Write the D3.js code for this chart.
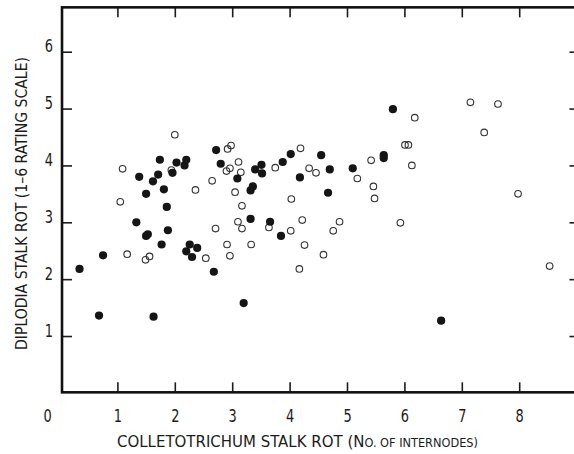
<!DOCTYPE html>
<html>
<head>
<meta charset="utf-8">
<script src="https://cdn.jsdelivr.net/npm/d3@7"></script>
<style>
  html, body { margin: 0; padding: 0; background: #fff; }
  svg text { font-family: "Liberation Sans Narrow", "DejaVu Sans Condensed", "Arial Narrow", sans-serif; fill: #1c1c1c; }
</style>
</head>
<body>
<div id="chart"></div>
<script>
// Diplodia vs Colletotrichum stalk rot, filled and open plants

const filledX = [0.34, 0.68, 0.75, 1.33, 1.38, 1.50, 1.50, 1.53, 1.62, 1.63, 1.71, 1.74, 1.77, 1.81, 1.86, 1.88,
  1.96, 2.03, 2.17, 2.20, 2.20, 2.26, 2.30, 2.39, 2.68, 2.72, 2.80, 3.09, 3.20, 3.32, 3.32, 3.36,
  3.40, 3.51, 3.52, 3.66, 3.85, 3.88, 4.02, 4.18, 4.55, 4.67, 4.70, 5.10, 5.64, 5.64, 5.80, 6.64];
const filledY = [2.18, 1.36, 2.42, 3.00, 3.80, 3.50, 2.76, 2.79, 3.72, 1.34, 3.84, 4.10, 2.61, 3.58, 3.27, 2.86,
  3.87, 4.05, 4.00, 4.10, 2.49, 2.61, 2.39, 2.55, 2.13, 4.27, 4.03, 3.77, 1.58, 3.06, 3.56, 3.63,
  3.93, 4.01, 3.86, 3.01, 2.76, 4.06, 4.20, 3.79, 4.18, 3.52, 3.93, 3.95, 4.18, 4.13, 4.99, 1.27];

const openX = [1.05, 1.09, 1.17, 1.49, 1.56, 1.94, 2.00, 2.36, 2.54, 2.65, 2.71, 2.90, 2.92, 2.91, 2.96, 2.96,
  2.98, 3.05, 3.10, 3.11, 3.15, 3.17, 3.17, 3.33, 3.64, 3.75, 4.02, 4.03, 4.17, 4.19, 4.22, 4.26,
  4.34, 4.46, 4.59, 4.76, 4.87, 5.18, 5.42, 5.46, 5.48, 5.93, 6.01, 6.07, 6.13, 6.18, 7.15, 7.39,
  7.63, 7.98, 8.53];
const openY = [3.36, 3.94, 2.44, 2.34, 2.40, 3.92, 4.54, 3.57, 2.37, 3.73, 2.89, 3.90, 4.29, 2.61, 2.41, 3.95,
  4.35, 3.53, 3.01, 4.06, 3.88, 3.29, 2.89, 2.61, 2.91, 3.96, 2.85, 3.41, 2.18, 4.30, 3.04, 2.60,
  3.95, 3.87, 2.43, 2.85, 3.01, 3.77, 4.09, 3.63, 3.42, 2.99, 4.36, 4.36, 4.00, 4.84, 5.11, 4.58,
  5.08, 3.50, 2.23];

const xTicks = [1, 2, 3, 4, 5, 6, 7, 8];
const yTicks = [1, 2, 3, 4, 5, 6];

const width = 574, height = 454;

const x = d3.scaleLinear().domain([0, 9]).range([60, 576.6]);
const y = d3.scaleLinear().domain([0, 6]).range([392.9, 51.7]);

const svg = d3.select("#chart").append("svg")
  .attr("width", width)
  .attr("height", height);

const x0 = x(0.035), x1 = x(9.05), yb = y(0.01), yt = y(6.78);

// narrow digits like the typeset original
const squeeze = 0.8;

// ticks, all pointing inward
svg.append("g")
  .attr("transform", `translate(0,${yb})`)
  .call(d3.axisBottom(x).tickValues(xTicks).tickSize(-10).tickPadding(17).tickFormat(d3.format("d")))
  .call(g => g.select(".domain").remove())
  .call(g => g.selectAll("line").attr("stroke", "#1c1c1c").attr("stroke-width", 1.6))
  .call(g => g.selectAll("text").attr("font-size", 18).attr("fill", null)
    .attr("transform", `scale(${squeeze},1)`));

svg.append("g")
  .attr("transform", `translate(0,${yt})`)
  .call(d3.axisTop(x).tickValues(xTicks).tickSize(-10).tickFormat(""))
  .call(g => g.select(".domain").remove())
  .call(g => g.selectAll("line").attr("stroke", "#1c1c1c").attr("stroke-width", 1.6));

svg.append("g")
  .attr("transform", `translate(${x0},0)`)
  .call(d3.axisLeft(y).tickValues(yTicks).tickSize(-10).tickPadding(9 / squeeze).tickFormat(d3.format("d")))
  .call(g => g.select(".domain").remove())
  .call(g => g.selectAll("line").attr("stroke", "#1c1c1c").attr("stroke-width", 1.6))
  .call(g => g.selectAll("text").attr("font-size", 18).attr("dy", 0).attr("fill", null)
    .attr("transform", `scale(${squeeze},1)`));

svg.append("g")
  .attr("transform", `translate(${x1},0)`)
  .call(d3.axisRight(y).tickValues(yTicks).tickSize(-10).tickFormat(""))
  .call(g => g.select(".domain").remove())
  .call(g => g.selectAll("line").attr("stroke", "#1c1c1c").attr("stroke-width", 1.6));

// frame
svg.append("rect")
  .attr("x", x0).attr("y", yt)
  .attr("width", x1 - x0).attr("height", yb - yt)
  .attr("fill", "none")
  .attr("stroke", "#111")
  .attr("stroke-width", 2.6);

// origin label
svg.append("text")
  .attr("transform", `translate(${x(0) - 12.5},422) scale(${squeeze},1)`)
  .attr("text-anchor", "middle")
  .attr("font-size", 18)
  .text("0");

// points
const filled = filledX.map((d, i) => [d, filledY[i]]);
const open = openX.map((d, i) => [d, openY[i]]);

svg.append("g")
  .selectAll("circle")
  .data(open)
  .join("circle")
  .attr("cx", d => x(d[0]))
  .attr("cy", d => y(d[1]))
  .attr("r", 3.3)
  .attr("fill", "none")
  .attr("stroke", "#333")
  .attr("stroke-width", 1.1);

svg.append("g")
  .selectAll("circle")
  .data(filled)
  .join("circle")
  .attr("cx", d => x(d[0]))
  .attr("cy", d => y(d[1]))
  .attr("r", 4.1)
  .attr("fill", "#151515");

// axis titles
const xTitle = svg.append("text")
  .attr("x", 117).attr("y", 447)
  .attr("textLength", 361).attr("lengthAdjust", "spacingAndGlyphs");
xTitle.append("tspan").attr("font-size", 16.5).text("COLLETOTRICHUM STALK ROT  (N");
xTitle.append("tspan").attr("font-size", 12.5).text("O. OF INTERNODES)");

svg.append("text")
  .attr("transform", "translate(27,350) rotate(-90)")
  .attr("font-size", 16.5)
  .attr("textLength", 293).attr("lengthAdjust", "spacingAndGlyphs")
  .text("DIPLODIA STALK ROT (1–6 RATING SCALE)");
</script>
</body>
</html>
